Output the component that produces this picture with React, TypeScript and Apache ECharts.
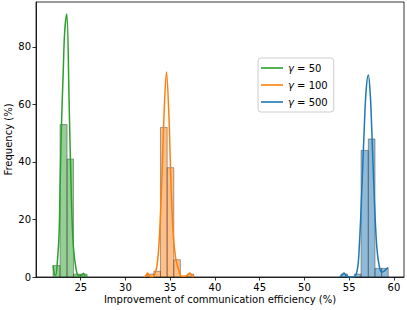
import React, { useEffect, useRef } from "react";
import * as echarts from "echarts";

// Tick labels
const xTicks = [25, 30, 35, 40, 45, 50, 55, 60];
const yTicks = [0, 20, 40, 60, 80];

// Series names
const names = ["γ = 50", "γ = 100", "γ = 500"];
const colors = ["#2ca02c", "#ff7f0e", "#1f77b4"];
const fills = ["rgba(44,160,44,0.5)", "rgba(255,127,14,0.5)", "rgba(31,119,180,0.5)"];

// Histogram bin edges and heights (% of runs)
const edges50 = [21.91, 22.69, 23.47, 24.19, 24.95, 25.71];
const freq50 = [4, 53, 41, 1, 1];
const edges100 = [32.43, 33.17, 33.91, 34.66, 35.4, 36.14, 36.89, 37.63];
const freq100 = [1, 2, 52, 38, 6, 0, 1];
const edges500 = [54.08, 54.83, 55.58, 56.33, 57.14, 57.89, 58.63, 59.37];
const freq500 = [1, 0, 1, 44, 48, 3, 3];

// KDE curves [x, density %]
const kde50 = [
  [21.91, 4], [22.05, 1], [22.2, 0.6], [22.4, 5.8], [22.58, 15], [22.7, 33], [22.85, 53],
  [23.05, 72], [23.2, 85], [23.44, 91.4], [23.7, 61], [23.96, 26.7], [24.18, 10.4],
  [24.44, 3.5], [24.7, 0.5], [25.0, 0.3], [25.3, 1.3], [25.5, 0.2], [25.67, 0.3],
];
const kde100 = [
  [32.09, 0], [32.3, 0.6], [32.46, 1.4], [32.7, 0.3], [33.0, 0.1], [33.2, 0.5], [33.5, 3.5],
  [33.75, 11.6], [34.05, 32.5], [34.3, 55.7], [34.58, 71.3], [34.86, 55.7], [35.03, 38],
  [35.29, 17.4], [35.59, 7], [35.96, 2.3], [36.25, 0.3], [36.52, 0.3], [36.9, 0.5],
  [37.19, 1.4], [37.45, 0.4], [37.63, 0.1],
];
const kde500 = [
  [53.9, 0], [54.2, 0.6], [54.43, 1.4], [54.7, 0.4], [55.1, 0], [55.47, 0], [55.9, 2.3],
  [56.13, 10.4], [56.4, 29], [56.69, 52], [56.9, 65], [57.14, 70.2], [57.35, 64], [57.52, 52],
  [57.82, 26.7], [58.09, 10.4], [58.38, 3.5], [58.65, 1.7], [58.9, 2], [59.2, 2.9], [59.37, 3.3],
];

const FONT = "DejaVu Sans";

function bins(edges: number[], freq: number[]) {
  return freq.map((h, i) => [edges[i], edges[i + 1], h]);
}

function histSeries(name: string, data: number[][], fill: string) {
  return {
    type: "custom",
    name,
    data,
    encode: { x: [0, 1], y: 2 },
    z: 2,
    renderItem: (_p: any, api: any) => {
      const a = api.coord([api.value(0), api.value(2)]);
      const b = api.coord([api.value(1), 0]);
      return {
        type: "rect",
        shape: { x: a[0], y: a[1], width: b[0] - a[0], height: b[1] - a[1] },
        style: { fill, stroke: "rgba(50,50,50,0.55)", lineWidth: 0.8 },
      };
    },
  };
}

function kdeSeries(name: string, data: number[][], color: string) {
  return {
    type: "line",
    name,
    data,
    symbol: "none",
    smooth: 0.35,
    z: 3,
    lineStyle: { color, width: 1.5 },
    itemStyle: { color },
  };
}

export default function App() {
  const ref = useRef<HTMLDivElement>(null);
  useEffect(() => {
    if (!ref.current) return;
    const chart = echarts.init(ref.current, undefined, { renderer: "svg" });
    chart.setOption({
      animation: false,
      textStyle: { fontFamily: FONT },
      grid: {
        left: 36, right: 3, top: 2, bottom: 33,
        containLabel: false,
        outerBoundsMode: "none",
        show: true, borderColor: "#000", borderWidth: 0.8,
      },
      legend: {
        data: names.map((n) => ({ name: n, icon: "rect" })),
        orient: "vertical",
        left: 258,
        top: 58,
        itemWidth: 22,
        itemHeight: 1.6,
        itemGap: 5,
        padding: [4, 6, 4, 3],
        borderColor: "#ccc",
        borderWidth: 1,
        borderRadius: 3,
        backgroundColor: "rgba(255,255,255,0.8)",
        formatter: (n: string) => n.replace("γ", "{i|γ}"),
        textStyle: {
          fontSize: 10,
          fontFamily: FONT,
          color: "#000",
          lineHeight: 12,
          rich: { i: { fontStyle: "italic", fontSize: 10, fontFamily: FONT, color: "#000", lineHeight: 12 } },
        },
      },
      xAxis: {
        type: "value",
        min: 20,
        max: 61.13,
        name: "Improvement of communication efficiency (%)",
        nameLocation: "middle",
        nameGap: 17,
        nameMoveOverlap: false,
        nameTextStyle: { fontSize: 10, color: "#000", fontFamily: FONT },
        splitLine: { show: false },
        axisLine: { show: true, lineStyle: { color: "#000", width: 0.8 } },
        axisTick: { show: true, length: 3.5, customValues: xTicks, lineStyle: { color: "#000", width: 0.8 } },
        axisLabel: { fontSize: 10, color: "#000", margin: 5, customValues: xTicks, fontFamily: FONT },
      },
      yAxis: {
        type: "value",
        min: 0,
        max: 95.6,
        name: "Frequency (%)",
        nameLocation: "middle",
        nameGap: 23,
        nameMoveOverlap: false,
        nameTextStyle: { fontSize: 10, color: "#000", fontFamily: FONT },
        splitLine: { show: false },
        axisLine: { show: true, lineStyle: { color: "#000", width: 0.8 } },
        axisTick: { show: true, length: 3.5, customValues: yTicks, lineStyle: { color: "#000", width: 0.8 } },
        axisLabel: { fontSize: 10, color: "#000", margin: 5, customValues: yTicks, fontFamily: FONT },
      },
      series: [
        histSeries("h50", bins(edges50, freq50), fills[0]),
        histSeries("h100", bins(edges100, freq100), fills[1]),
        histSeries("h500", bins(edges500, freq500), fills[2]),
        kdeSeries(names[0], kde50, colors[0]),
        kdeSeries(names[1], kde100, colors[1]),
        kdeSeries(names[2], kde500, colors[2]),
      ],
    });
    return () => chart.dispose();
  }, []);
  return <div ref={ref} style={{ width: 407, height: 310, position: "absolute", left: 0, top: 0 }} />;
}
